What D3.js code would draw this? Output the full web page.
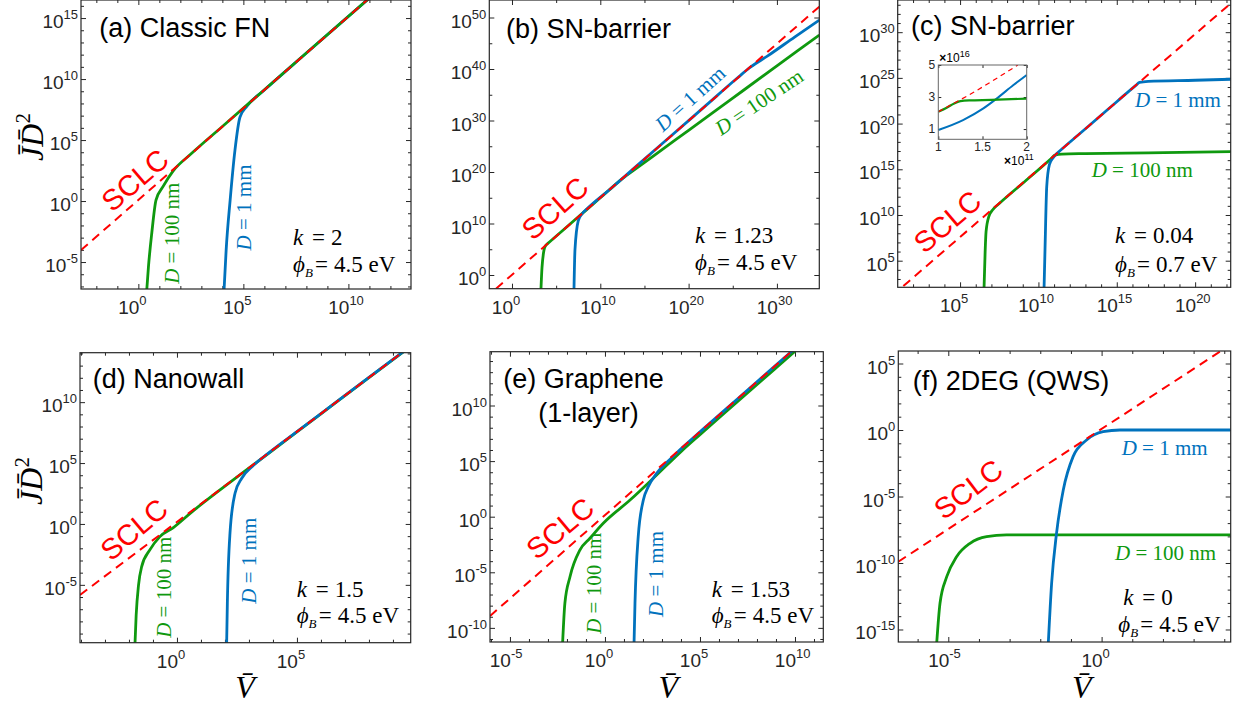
<!DOCTYPE html>
<html>
<head>
<meta charset="utf-8">
<script src="https://cdn.jsdelivr.net/npm/d3@7"></script>
<style>
body { margin: 0; background: #fff; }
text { font-family: "Liberation Sans", Arial, sans-serif; }
</style>
</head>
<body>
<script>
// all curve values are log10 exponents: [log10 V, log10 J*D^2]

var titles = [["(a) Classic FN"], ["(b) SN-barrier"], ["(c) SN-barrier"], ["(d) Nanowall"], ["(e) Graphene", "(1-layer)"], ["(f) 2DEG (QWS)"]];
var kValues = ["2", "1.23", "0.04", "1.5", "1.53", "0"];
var phiValues = ["4.5", "4.5", "0.7", "4.5", "4.5", "4.5"];

// axis ranges (log10) and labelled ticks
var xRangeA = [-2.73, 12.98], yRangeA = [-7.21, 16.48];
var xRangeB = [-2.57, 34.8],  yRangeB = [-2.66, 53.4];
var xRangeC = [1.02, 22.27],  yRangeC = [2.09, 33.52];
var xRangeD = [-4.04, 9.74],  yRangeD = [-9.75, 14.06];
var xRangeE = [-6.05, 11.49], yRangeE = [-11.27, 14.84];
var xRangeF = [-6.63, 4.21],  yRangeF = [-15.94, 5.94];

var xTicksA = [0, 5, 10],          yTicksA = [-5, 0, 5, 10, 15];
var xTicksB = [0, 10, 20, 30],     yTicksB = [0, 10, 20, 30, 40, 50];
var xTicksC = [5, 10, 15, 20],     yTicksC = [5, 10, 15, 20, 25, 30];
var xTicksD = [0, 5],              yTicksD = [-5, 0, 5, 10];
var xTicksE = [-5, 0, 5, 10],      yTicksE = [-10, -5, 0, 5, 10];
var xTicksF = [-5, 0],             yTicksF = [-15, -10, -5, 0, 5];

// SCLC asymptotes
var sclcA = [[-2.73, -4.02], [11.2, 16.94]];
var sclcB = [[-1.81, -2.66], [34.8, 52.1]];
var sclcC = [[1.38, 2.23], [22.23, 33.09]];
var sclcD = [[-4.04, -5.83], [9.74, 14.6]];
var sclcE = [[-6.05, -8.93], [11.6, 17.53]];
var sclcF = [[-6.63, -9.9], [4.21, 6.42]];

// D = 100 nm
var greenA = [[0.4, -7.3], [0.48, -5.41], [0.64, -2.62], [0.84, 0.08], [1.18, 1.2], [1.65, 2.45], [2.5, 3.85], [4, 6.11], [6, 9.12], [8, 12.13], [11.2, 16.94]];
var greenB = [[3.28, -2.8], [3.4, 1.5], [3.74, 5.5], [4.11, 6.2], [4.6, 6.93], [6, 9.02], [8, 12.02], [10, 15.0], [11, 16.5], [12.5, 18.7], [14, 20.6], [17, 24.35], [20, 28.1], [25, 34.35], [30, 40.6], [34.8, 46.6]];
var greenC = [[6.53, 2.0], [6.6, 6], [6.66, 8.2], [6.85, 9.9], [7.1, 10.6], [7.5, 11.25], [9, 13.48], [10.8, 16.15], [11.06, 16.56], [11.5, 16.66], [13, 16.72], [17, 16.8], [22.3, 16.93]];
var greenD = [[-1.75, -9.9], [-1.7, -7.5], [-1.6, -5], [-1.47, -3.5], [-1.13, -2.13], [-0.71, -1.04], [-0.15, -0.3], [0.6, 0.95], [2, 3.1], [4, 6.07], [6, 9.04], [8, 12.01], [9.74, 14.58]];
var greenE = [[-2.23, -11.4], [-2.11, -7.79], [-1.84, -5.4], [-1.32, -3.0], [-0.79, -1.94], [-0.09, -0.59], [1.32, 1.5], [2.72, 3.75], [4, 5.85], [5, 7.38], [7, 10.38], [9, 13.38], [11.6, 17.28]];
var greenF = [[-5.38, -16.1], [-5.27, -13.03], [-5.05, -11.03], [-4.73, -9.53], [-4.29, -8.52], [-3.75, -8.02], [-3.1, -7.89], [-1, -7.88], [4.21, -7.88]];

// D = 1 mm
var blueA = [[4.08, -7.3], [4.18, -4.02], [4.37, 0.08], [4.6, 4.18], [4.84, 6.89], [5.18, 7.8], [6, 9.1], [8, 12.13], [11.2, 16.94]];
var blueB = [[7.02, -2.8], [7.13, 4.85], [7.5, 10.5], [7.9, 11.8], [8.5, 12.85], [11, 16.5], [13, 19.5], [15, 22.5], [18, 26.98], [22, 32.98], [25.45, 38.15], [27, 40.35], [29, 42.6], [32, 46.2], [34.8, 49.5]];
var blueC = [[10.36, 2.0], [10.42, 6.2], [10.53, 13.1], [10.7, 15.5], [10.95, 16.3], [11.5, 17.21], [12.5, 18.69], [14, 20.91], [15, 22.39], [16.2, 24.16], [16.45, 24.5], [17, 24.62], [20, 24.74], [22.3, 24.85]];
var blueD = [[2.07, -9.9], [2.1, -6.5], [2.21, -0.76], [2.42, 2.52], [2.7, 3.75], [3.18, 4.8], [3.8, 5.8], [5, 7.58], [6, 9.06], [8, 12.03], [9.74, 14.6]];
var blueE = [[1.53, -11.4], [1.58, -7.79], [1.75, -1.8], [2.02, 1.5], [2.28, 2.7], [2.72, 3.9], [3.2, 4.8], [3.6, 5.45], [4, 6.1], [5, 7.63], [7, 10.63], [9, 13.63], [11.6, 17.53]];
var blueF = [[-1.74, -16.1], [-1.63, -11.53], [-1.47, -7.77], [-1.25, -4.51], [-0.93, -2.0], [-0.49, -0.75], [0.05, -0.13], [0.6, 0], [4.21, 0]];

// inset of (c), linear: V in 1e11, J*D^2 in 1e16
var insetSclc  = [[1, 2.08], [1.4, 3.3], [1.9, 5.0]];
var insetGreen = [[1, 2.08], [1.1, 2.35], [1.18, 2.6], [1.25, 2.74], [1.35, 2.79], [1.6, 2.82], [2, 2.9]];
var insetBlue  = [[1, 0.94], [1.28, 1.56], [1.51, 2.29], [1.66, 2.9], [1.85, 3.75], [2, 4.38]];
var insetXTicks = [1, 1.5, 2], insetYTicks = [1, 3, 5];

var BLUE = "#0072bd", GREEN = "#0f990f", RED = "#ff0000", AX = "#262626";
var SERIF = "'Liberation Serif', 'Times New Roman', serif";

var svg = d3.select("body").append("svg")
  .attr("width", 1243)
  .attr("height", 711)
  .style("background", "#fff");

var panels = [
  {name: "a", box: [81, 0, 411, 289], xd: xRangeA, yd: yRangeA, xt: xTicksA, yt: yTicksA, minor: 1,
   sclc: sclcA, green: greenA, blue: blueA, order: ["blue", "green"],
   title: {x: 99.3, y: 36.7}, ann: {x: 293, y1: 245, y2: 271.7},
   sclcText: {x: 135, y: 180, r: -40.7},
   gLab: {x: 171.7, y: 233.3, r: -90}, bLab: {x: 244, y: 207.5, r: -90},
   ylab: {x: 43, y: 137}},
  {name: "b", box: [489.3, 0, 819.3, 288.7], xd: xRangeB, yd: yRangeB, xt: xTicksB, yt: yTicksB, minor: 5,
   sclc: sclcB, green: greenB, blue: blueB, order: ["green", "blue"],
   title: {x: 506, y: 38}, ann: {x: 695, y1: 243.3, y2: 270},
   sclcText: {x: 555, y: 208.3, r: -41.6},
   gLab: {x: 759, y: 101.7, r: -34}, bLab: {x: 690, y: 98.3, r: -42}},
  {name: "c", box: [897.7, 0, 1230.7, 287.3], xd: xRangeC, yd: yRangeC, xt: xTicksC, yt: yTicksC, minor: 1,
   sclc: sclcC, green: greenC, blue: blueC, order: ["green", "blue"],
   title: {x: 911, y: 35}, ann: {x: 1115, y1: 243.3, y2: 271.7},
   sclcText: {x: 947.3, y: 221.7, r: -40.6},
   gLab: {x: 1091.7, y: 176.7, r: 0, start: true}, bLab: {x: 1135, y: 106.7, r: 0, start: true},
   inset: true},
  {name: "d", box: [80, 352.7, 410.7, 642.7], xd: xRangeD, yd: yRangeD, xt: xTicksD, yt: yTicksD, minor: 1,
   sclc: sclcD, green: greenD, blue: blueD, order: ["green", "blue"],
   title: {x: 92.7, y: 388}, ann: {x: 296.7, y1: 596.7, y2: 623.3},
   sclcText: {x: 134, y: 529.3, r: -40},
   gLab: {x: 163.3, y: 587.3, r: -90}, bLab: {x: 249, y: 560.7, r: -90},
   ylab: {x: 42, y: 481}, xlab: {x: 245, y: 698}},
  {name: "e", box: [490, 351.7, 823.3, 642], xd: xRangeE, yd: yRangeE, xt: xTicksE, yt: yTicksE, minor: 1,
   sclc: sclcE, green: greenE, blue: blueE, order: ["green", "blue"],
   title: {x: 503.3, y: 388, x2: 538.3, y2: 421.7}, ann: {x: 711.7, y1: 596.7, y2: 623.3},
   sclcText: {x: 560, y: 528.3, r: -39.8},
   gLab: {x: 594, y: 583.3, r: -90}, bLab: {x: 655.7, y: 574, r: -90},
   xlab: {x: 668.3, y: 698}},
  {name: "f", box: [898.3, 351, 1230.7, 642], xd: xRangeF, yd: yRangeF, xt: xTicksF, yt: yTicksF, minor: 1,
   sclc: sclcF, green: greenF, blue: blueF, order: ["green", "blue"],
   title: {x: 912.7, y: 390}, ann: {x: 1123.3, px: 1118.3, y1: 605, y2: 631.7},
   sclcText: {x: 968.3, y: 489.3, r: -37.4},
   gLab: {x: 1115, y: 560, r: 0, start: true}, bLab: {x: 1121.7, y: 455, r: 0, start: true},
   xlab: {x: 1081.7, y: 698}}
];

function p10(v) { return Math.pow(10, v); }

function steps(lo, hi, step) {
  var out = [];
  for (var v = Math.ceil(lo / step) * step; v <= hi; v += step) out.push(v);
  return out;
}

function tickMarks(g, axis, tr, vals, len) {
  g.append("g").attr("transform", tr)
    .call(axis.tickValues(vals).tickSize(len).tickSizeOuter(0).tickFormat(""))
    .call(function(s) { s.select(".domain").remove(); })
    .selectAll("line").attr("stroke", AX).attr("stroke-width", 1);
}

function dLabel(g, o, text, color) {
  var t = g.append("text")
    .attr("transform", "translate(" + o.x + "," + o.y + ") rotate(" + o.r + ")")
    .attr("text-anchor", o.start ? "start" : "middle")
    .attr("dy", o.start ? 0 : "0.35em")
    .style("font-family", SERIF).attr("font-size", 21).attr("fill", color);
  t.append("tspan").attr("font-style", "italic").text("D");
  t.append("tspan").text(" = " + text);
}

panels.forEach(function(p, i) {
  var b = p.box;
  var x = d3.scaleLog().domain([p10(p.xd[0]), p10(p.xd[1])]).range([b[0], b[2]]);
  var y = d3.scaleLog().domain([p10(p.yd[0]), p10(p.yd[1])]).range([b[3], b[1]]);
  var g = svg.append("g");

  var cid = "clip-" + p.name;
  g.append("clipPath").attr("id", cid).append("rect")
    .attr("x", b[0]).attr("y", b[1]).attr("width", b[2] - b[0]).attr("height", b[3] - b[1]);

  // ticks inside on all four sides
  var majX = p.xt.map(p10), majY = p.yt.map(p10);
  var minX = steps(p.xd[0], p.xd[1], p.minor).filter(function(v) { return p.xt.indexOf(v) < 0; }).map(p10);
  var minY = steps(p.yd[0], p.yd[1], p.minor).filter(function(v) { return p.yt.indexOf(v) < 0; }).map(p10);
  tickMarks(g, d3.axisBottom(x), "translate(0," + b[3] + ")", majX, -5);
  tickMarks(g, d3.axisBottom(x), "translate(0," + b[3] + ")", minX, -3);
  tickMarks(g, d3.axisTop(x), "translate(0," + b[1] + ")", majX, -5);
  tickMarks(g, d3.axisTop(x), "translate(0," + b[1] + ")", minX, -3);
  tickMarks(g, d3.axisLeft(y), "translate(" + b[0] + ",0)", majY, -5);
  tickMarks(g, d3.axisLeft(y), "translate(" + b[0] + ",0)", minY, -3);
  tickMarks(g, d3.axisRight(y), "translate(" + b[2] + ",0)", majY, -5);
  tickMarks(g, d3.axisRight(y), "translate(" + b[2] + ",0)", minY, -3);

  // curves
  var line = d3.line()
    .x(function(d) { return x(p10(d[0])); })
    .y(function(d) { return y(p10(d[1])); })
    .curve(d3.curveMonotoneX);
  var plot = g.append("g").attr("clip-path", "url(#" + cid + ")");
  p.order.forEach(function(k) {
    plot.append("path").datum(p[k]).attr("d", line)
      .attr("fill", "none").attr("stroke", k == "blue" ? BLUE : GREEN)
      .attr("stroke-width", 2.8).attr("stroke-linejoin", "round");
  });
  plot.append("path").datum(p.sclc).attr("d", line.curve(d3.curveLinear))
    .attr("fill", "none").attr("stroke", RED).attr("stroke-width", 2)
    .attr("stroke-dasharray", "9,6");

  // frame
  g.append("rect").attr("x", b[0]).attr("y", b[1]).attr("width", b[2] - b[0]).attr("height", b[3] - b[1])
    .attr("fill", "none").attr("stroke", AX).attr("stroke-width", 1.2);

  // tick labels
  p.xt.forEach(function(t) {
    var px = x(p10(t)) + 1;
    g.append("text").attr("x", px).attr("y", b[3] + 25).attr("text-anchor", "end")
      .attr("font-size", 19).attr("fill", AX).text("10");
    g.append("text").attr("x", px).attr("y", b[3] + 16)
      .attr("font-size", 13).attr("fill", AX).text(t);
  });
  p.yt.forEach(function(t) {
    var lab = g.append("text").attr("x", b[0] - 3).attr("y", y(p10(t)) + 10)
      .attr("text-anchor", "end").attr("font-size", 19).attr("fill", AX);
    lab.append("tspan").text("10");
    lab.append("tspan").attr("dy", -9).attr("font-size", 13).text(t);
  });

  // panel title
  g.append("text").attr("x", p.title.x).attr("y", p.title.y)
    .attr("font-size", 27).attr("fill", "#000").text(titles[i][0]);
  if (titles[i][1]) {
    g.append("text").attr("x", p.title.x2).attr("y", p.title.y2)
      .attr("font-size", 27).attr("fill", "#000").text(titles[i][1]);
  }

  // SCLC label
  g.append("text")
    .attr("transform", "translate(" + p.sclcText.x + "," + p.sclcText.y + ") rotate(" + p.sclcText.r + ")")
    .attr("text-anchor", "middle").attr("dy", "0.35em")
    .attr("font-size", 29).attr("fill", RED).text("SCLC");

  dLabel(g, p.gLab, "100 nm", GREEN);
  dLabel(g, p.bLab, "1 mm", BLUE);

  // k and phi_B
  var a = p.ann, px2 = a.px || a.x;
  var k1 = g.append("text").attr("x", a.x).attr("y", a.y1).style("font-family", SERIF).attr("font-size", 23).attr("fill", "#000");
  k1.append("tspan").attr("font-style", "italic").text("k");
  g.append("text").attr("x", a.x + 19).attr("y", a.y1).style("font-family", SERIF).attr("font-size", 23).text("=");
  g.append("text").attr("x", a.x + 38).attr("y", a.y1).style("font-family", SERIF).attr("font-size", 23).text(kValues[i]);
  var f1 = g.append("text").attr("x", px2).attr("y", a.y2).style("font-family", SERIF).attr("font-size", 23).attr("fill", "#000");
  f1.append("tspan").attr("font-style", "italic").text("\u03D5");
  f1.append("tspan").attr("font-style", "italic").attr("font-size", 13).attr("dy", 5).text("B");
  g.append("text").attr("x", px2 + 22).attr("y", a.y2).style("font-family", SERIF).attr("font-size", 23).text("=");
  g.append("text").attr("x", px2 + 41).attr("y", a.y2).style("font-family", SERIF).attr("font-size", 23).text(phiValues[i] + " eV");

  // axis titles
  if (p.ylab) {
    var yl = g.append("text")
      .attr("transform", "translate(" + p.ylab.x + "," + p.ylab.y + ") rotate(-90)")
      .attr("text-anchor", "middle").style("font-family", SERIF).attr("font-size", 32).attr("fill", "#000");
    yl.append("tspan").attr("font-style", "italic").text("J\u0304D\u0304");
    yl.append("tspan").attr("dy", -13).attr("font-size", 21).text("2");
  }
  if (p.xlab) {
    g.append("text").attr("x", p.xlab.x).attr("y", p.xlab.y).attr("text-anchor", "middle")
      .style("font-family", SERIF).attr("font-style", "italic").attr("font-size", 32).attr("fill", "#000")
      .text("V\u0304");
  }

  if (p.inset) drawInset();
});

function drawInset() {
  var ib = [938.3, 65, 1026.7, 139.3];
  var ix = d3.scaleLinear().domain([1, 2]).range([ib[0], ib[2]]);
  var iy = d3.scaleLinear().domain([0.36, 5]).range([ib[3], ib[1]]);
  var g = svg.append("g");
  g.append("clipPath").attr("id", "clip-inset").append("rect")
    .attr("x", ib[0]).attr("y", ib[1]).attr("width", ib[2] - ib[0]).attr("height", ib[3] - ib[1]);
  g.append("rect").attr("x", ib[0]).attr("y", ib[1]).attr("width", ib[2] - ib[0]).attr("height", ib[3] - ib[1])
    .attr("fill", "#fff");

  tickMarks(g, d3.axisBottom(ix), "translate(0," + ib[3] + ")", insetXTicks, -3);
  tickMarks(g, d3.axisTop(ix), "translate(0," + ib[1] + ")", insetXTicks, -3);
  tickMarks(g, d3.axisLeft(iy), "translate(" + ib[0] + ",0)", insetYTicks, -3);
  tickMarks(g, d3.axisRight(iy), "translate(" + ib[2] + ",0)", insetYTicks, -3);

  var l = d3.line().x(function(d) { return ix(d[0]); }).y(function(d) { return iy(d[1]); }).curve(d3.curveMonotoneX);
  var plot = g.append("g").attr("clip-path", "url(#clip-inset)");
  plot.append("path").datum(insetBlue).attr("d", l).attr("fill", "none").attr("stroke", BLUE).attr("stroke-width", 2);
  plot.append("path").datum(insetGreen).attr("d", l).attr("fill", "none").attr("stroke", GREEN).attr("stroke-width", 2.2);
  plot.append("path").datum(insetSclc).attr("d", l).attr("fill", "none").attr("stroke", RED)
    .attr("stroke-width", 1.2).attr("stroke-dasharray", "5,4");

  g.append("rect").attr("x", ib[0]).attr("y", ib[1]).attr("width", ib[2] - ib[0]).attr("height", ib[3] - ib[1])
    .attr("fill", "none").attr("stroke", "#666").attr("stroke-width", 1);

  insetXTicks.forEach(function(t) {
    g.append("text").attr("x", ix(t)).attr("y", ib[3] + 12).attr("text-anchor", "middle")
      .attr("font-size", 12).attr("fill", AX).text(t);
  });
  insetYTicks.forEach(function(t) {
    g.append("text").attr("x", ib[0] - 3).attr("y", iy(t) + 4).attr("text-anchor", "end")
      .attr("font-size", 12).attr("fill", AX).text(t);
  });
  var m1 = g.append("text").attr("x", ib[0] + 1).attr("y", ib[1] - 3).attr("font-size", 12).attr("fill", "#000");
  m1.append("tspan").attr("font-weight", "bold").text("\u00D7");
  m1.append("tspan").text("10");
  m1.append("tspan").attr("dy", -5).attr("font-size", 9).text("16");
  var m2 = g.append("text").attr("x", 1004).attr("y", 165).attr("font-size", 12).attr("fill", "#000");
  m2.append("tspan").attr("font-weight", "bold").text("\u00D7");
  m2.append("tspan").text("10");
  m2.append("tspan").attr("dy", -5).attr("font-size", 9).text("11");
}
</script>
</body>
</html>
